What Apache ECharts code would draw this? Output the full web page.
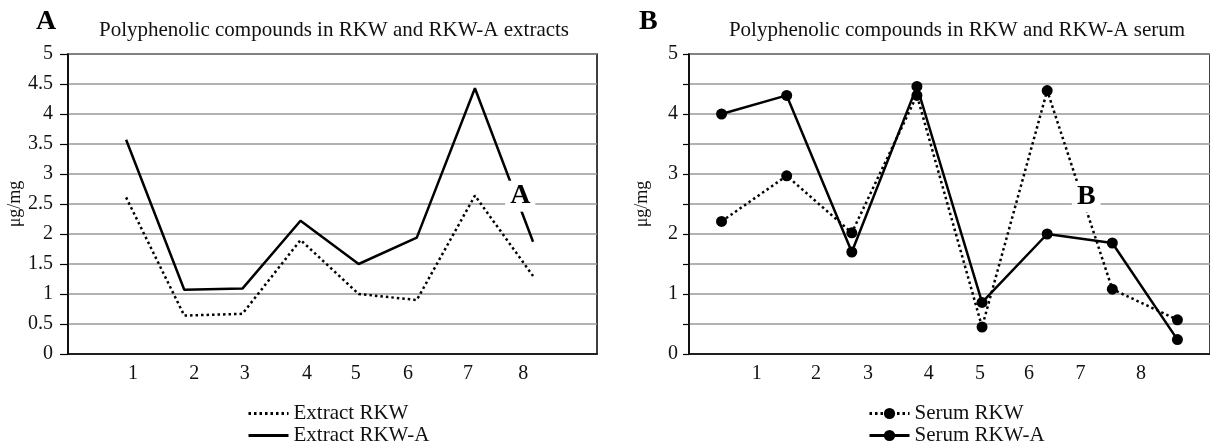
<!DOCTYPE html>
<html><head><meta charset="utf-8">
<script src="https://cdn.jsdelivr.net/npm/echarts@6/dist/echarts.min.js"></script>
<style>html,body{margin:0;padding:0;background:#fff}#c{width:1210px;height:443px}</style>
</head><body><div id="c"></div>
<script>
// Panel A: extracts
var extractRKW  = [2.61, 0.64, 0.67, 1.90, 1.00, 0.90, 2.64, 1.30];
var extractRKWA = [3.57, 1.07, 1.09, 2.22, 1.50, 1.94, 4.43, 1.87];
// Panel B: serum
var serumRKW  = [2.21, 2.97, 2.02, 4.31, 0.45, 4.39, 1.08, 0.57];
var serumRKWA = [4.00, 4.31, 1.70, 4.46, 0.86, 2.00, 1.85, 0.24];
// category tick labels and where they sit along the (1..8) point axis
var tickLabels = ['1','2','3','4','5','6','7','8'];
var tickPosA = [1.12, 2.17, 3.04, 4.11, 4.95, 5.85, 6.88, 7.83];
var tickPosB = [1.54, 2.45, 3.25, 4.18, 4.97, 5.72, 6.51, 7.44];
var pointIdx = [1,2,3,4,5,6,7,8];

var FONT = '"Liberation Serif", "Times New Roman", serif';
function pairs(v){ return v.map(function(y,i){ return [pointIdx[i], y]; }); }

var chart = echarts.init(document.getElementById('c'), null, {renderer:'canvas'});

function xAxis(gi, min, max, pos){
  return {type:'value', gridIndex:gi, min:min, max:max,
    axisLine:{show:true, lineStyle:{color:'#000', width:1.5}},
    axisTick:{show:false}, splitLine:{show:false},
    axisLabel:{customValues:pos, fontFamily:FONT, fontSize:20, color:'#111', margin:10,
      formatter:function(v){ var k = pos.indexOf(v); return k >= 0 ? tickLabels[k] : ''; }}};
}
function yAxis(gi, gap, tickLen, margin, fmt){
  return {type:'value', gridIndex:gi, min:0, max:5, interval:0.5,
     name:'μg/mg', nameLocation:'middle', nameGap:gap, nameTextStyle:{fontFamily:FONT, fontSize:18, color:'#111'},
     axisLine:{show:true, lineStyle:{color:'#000', width:1.5}},
     axisTick:{show:true, length:tickLen, lineStyle:{color:'#000', width:1.2}},
     splitLine:{lineStyle:{color:'#999', width:1.5}},
     axisLabel:{fontFamily:FONT, fontSize:20, color:'#111', margin:margin, formatter:fmt}};
}
function markText(t, coord){
  return {symbol:'rect', symbolSize:[1,1], itemStyle:{color:'rgba(0,0,0,0)'}, z:10,
    data:[{coord:coord, value:t}],
    label:{show:true, formatter:t, position:'inside', fontFamily:FONT, fontSize:28, fontWeight:'bold', color:'#000',
      backgroundColor:'#fff', padding:[3,5,0,5]}};
}

chart.setOption({
  animation:false,
  textStyle:{fontFamily:FONT},
  title:[
    {text:'A', left:31, top:3, textStyle:{fontFamily:FONT, fontSize:28, fontWeight:'bold', color:'#000'}},
    {text:'Polyphenolic compounds in RKW and RKW-A extracts', left:329, textAlign:'center', top:15, textStyle:{fontFamily:FONT, fontSize:21, fontWeight:'normal', color:'#111'}},
    {text:'B', left:634, top:3, textStyle:{fontFamily:FONT, fontSize:28, fontWeight:'bold', color:'#000'}},
    {text:'Polyphenolic compounds in RKW and RKW-A serum', left:952, textAlign:'center', top:15, textStyle:{fontFamily:FONT, fontSize:21, fontWeight:'normal', color:'#111'}}
  ],
  grid:[
    {left:68, right:613, top:54, bottom:89, show:true, borderColor:'#000', borderWidth:1.5},
    {left:689, right:-2, top:54, bottom:89, show:true, borderColor:'#000', borderWidth:1.5}
  ],
  legend:[
    {orient:'vertical', left:242, top:398, height:46, itemGap:1, itemWidth:40, itemHeight:14,
     lineStyle:{width:3},
     textStyle:{fontFamily:FONT, fontSize:21, color:'#111'},
     data:[{name:'Extract RKW', itemStyle:{color:'rgba(0,0,0,0)', borderWidth:0}},
           {name:'Extract RKW-A', itemStyle:{color:'rgba(0,0,0,0)', borderWidth:0}}]},
    {orient:'vertical', left:863, top:398, height:46, itemGap:1, itemWidth:40, itemHeight:14,
     lineStyle:{width:3},
     textStyle:{fontFamily:FONT, fontSize:21, color:'#111'}, data:['Serum RKW','Serum RKW-A']}
  ],
  xAxis:[ xAxis(0, 0, 9.1, tickPosA), xAxis(1, 0.5, 8.5, tickPosB) ],
  yAxis:[
    yAxis(0, 43, 8, 15, null),
    yAxis(1, 38, 6, 11, function(v){ return (Math.abs(v - Math.round(v)) < 1e-9) ? String(Math.round(v)) : ''; })
  ],
  series:[
    {name:'Extract RKW', type:'line', xAxisIndex:0, yAxisIndex:0, data:pairs(extractRKW), showSymbol:false, symbol:'none',
     lineStyle:{color:'#000', width:2.5, type:[2.5,3]}, itemStyle:{color:'#000'}},
    {name:'Extract RKW-A', type:'line', xAxisIndex:0, yAxisIndex:0, data:pairs(extractRKWA), showSymbol:false, symbol:'none',
     lineStyle:{color:'#000', width:2.5}, itemStyle:{color:'#000'},
     markPoint:markText('A', [7.78, 2.63])},
    {name:'Serum RKW', type:'line', xAxisIndex:1, yAxisIndex:1, data:pairs(serumRKW), symbol:'circle', symbolSize:11,
     lineStyle:{color:'#000', width:2.5, type:[2.5,3]}, itemStyle:{color:'#000'}},
    {name:'Serum RKW-A', type:'line', xAxisIndex:1, yAxisIndex:1, data:pairs(serumRKWA), symbol:'circle', symbolSize:11,
     lineStyle:{color:'#000', width:2.5}, itemStyle:{color:'#000'},
     markPoint:markText('B', [6.6, 2.62])}
  ]
});
</script></body></html>
